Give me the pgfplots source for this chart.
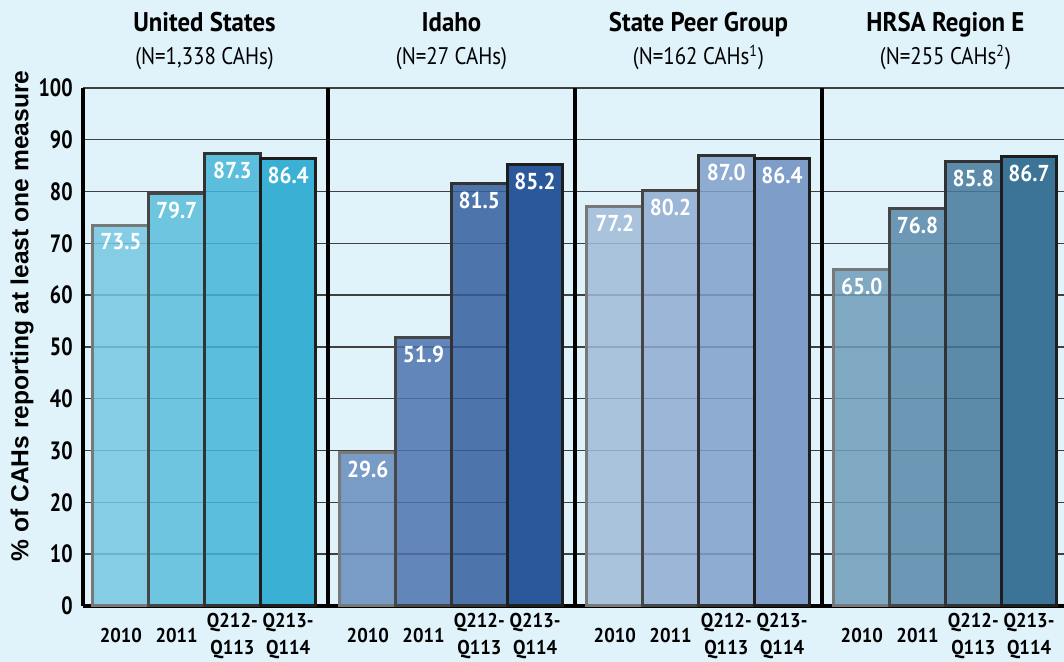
\documentclass[border=0pt]{standalone}
\usepackage{pgfplots}
\pgfplotsset{compat=1.18}
\usepackage{fontspec}
\setmainfont{PT Sans}
\newfontfamily\cond{PT Sans}[FakeStretch=0.8]
\newfontfamily\condt{PT Sans}[FakeStretch=0.92]
\newfontfamily\conds{PT Sans}[FakeStretch=0.87]
\newfontfamily\condx{PT Sans}[FakeStretch=0.93]
\newfontfamily\arialb{Liberation Sans}

\definecolor{bgc}{RGB}{224,243,250}
% United States
\definecolor{ua}{RGB}{116,199,226}
\definecolor{ub}{RGB}{90,189,219}
\definecolor{uc}{RGB}{69,181,217}
\definecolor{ud}{RGB}{58,176,213}
% Idaho
\definecolor{ia}{RGB}{104,141,189}
\definecolor{ib}{RGB}{76,115,175}
\definecolor{ic}{RGB}{52,94,158}
\definecolor{id}{RGB}{42,88,154}
% State peer group
\definecolor{pa}{RGB}{160,187,217}
\definecolor{pb}{RGB}{143,172,208}
\definecolor{pc}{RGB}{128,160,203}
\definecolor{pd}{RGB}{126,157,200}
% HRSA Region E
\definecolor{ra}{RGB}{111,157,185}
\definecolor{rb}{RGB}{90,137,169}
\definecolor{rc}{RGB}{69,121,156}
\definecolor{rd}{RGB}{60,116,152}
% borders
\definecolor{ba}{RGB}{120,120,120}
\definecolor{bb}{RGB}{70,70,70}
\definecolor{bc}{RGB}{50,50,50}
\definecolor{bd}{RGB}{30,30,30}

\pgfplotsset{
  vbar/.style n args={3}{
    ybar, bar width=1, bar shift=0pt,
    fill=#1, draw=#2, line width=1.5pt, fill opacity=#3,
    nodes near coords={\pgfmathprintnumber[fixed,zerofill,precision=1,assume math mode=true]{\pgfplotspointmeta}},
    every node near coord/.append style={anchor=north, inner sep=0pt, yshift=-3.5pt,
      text=white, fill opacity=1, text opacity=1,
      font=\condt\bfseries\fontsize{11.5}{12}\selectfont},
  },
}
\tikzset{
  gtitle/.style={anchor=base, inner sep=0pt, font=\condt\bfseries\fontsize{13.5}{14}\selectfont},
  gsub/.style={anchor=base, inner sep=0pt, font=\conds\fontsize{12}{13}\selectfont},
}

\begin{document}
\begin{tikzpicture}
\useasboundingbox (0,0) rectangle (532pt,331pt);
\fill[bgc] (0,0) rectangle (532pt,331pt);
\begin{axis}[
  at={(41.5pt,28pt)}, anchor=south west,
  scale only axis, width=490.5pt, height=259pt,
  xmin=-0.679, xmax=16.917, ymin=0, ymax=100,
  clip=false,
  axis x line*=bottom, axis y line*=left,
  axis line style={line width=2pt, black, -},
  major tick length=0pt,
  ytick={0,10,...,100},
  ymajorgrids,
  major grid style={line width=0.7pt, black!75},
  /pgf/number format/assume math mode=true,
  yticklabel style={font=\cond\bfseries\fontsize{12.5}{13}\selectfont, inner sep=0pt, xshift=-5pt},
  xtick={0,1,2,3,4.43,5.43,6.43,7.43,8.86,9.86,10.86,11.86,13.29,14.29,15.29,16.29},
  xticklabels={2010,2011,{Q212-\\Q113},{Q213-\\Q114},2010,2011,{Q212-\\Q113},{Q213-\\Q114},2010,2011,{Q212-\\Q113},{Q213-\\Q114},2010,2011,{Q212-\\Q113},{Q213-\\Q114}},
  xticklabel style={font=\condx\bfseries\fontsize{10}{13.5}\selectfont, align=center, anchor=center, yshift=-15pt},
  extra x ticks={3.715,8.145,12.575},
  extra x tick labels={},
  extra x tick style={grid=major, major grid style={line width=2pt, black}},
]
% United States
\addplot[vbar={ua}{ba}{0.85}] coordinates {(0,73.5)};
\addplot[vbar={ub}{bb}{0.85}] coordinates {(1,79.7)};
\addplot[vbar={uc}{bc}{0.85}] coordinates {(2,87.3)};
\addplot[vbar={ud}{bd}{1}] coordinates {(3,86.4)};
% Idaho
\addplot[vbar={ia}{ba}{0.85}] coordinates {(4.43,29.6)};
\addplot[vbar={ib}{bb}{0.85}] coordinates {(5.43,51.9)};
\addplot[vbar={ic}{bc}{0.85}] coordinates {(6.43,81.5)};
\addplot[vbar={id}{bd}{1}] coordinates {(7.43,85.2)};
% State Peer Group
\addplot[vbar={pa}{ba}{0.85}] coordinates {(8.86,77.2)};
\addplot[vbar={pb}{bb}{0.85}] coordinates {(9.86,80.2)};
\addplot[vbar={pc}{bc}{0.85}] coordinates {(10.86,87.0)};
\addplot[vbar={pd}{bd}{1}] coordinates {(11.86,86.4)};
% HRSA Region E
\addplot[vbar={ra}{ba}{0.85}] coordinates {(13.29,65.0)};
\addplot[vbar={rb}{bb}{0.85}] coordinates {(14.29,76.8)};
\addplot[vbar={rc}{bc}{0.85}] coordinates {(15.29,85.8)};
\addplot[vbar={rd}{bd}{1}] coordinates {(16.29,86.7)};

\node[gtitle] at ([yshift=28pt]axis cs:1.5,100) {United States};
\node[gsub]   at ([yshift=11.5pt]axis cs:1.5,100) {(N=1,338 CAHs)};
\node[gtitle] at ([yshift=28pt]axis cs:5.93,100) {Idaho};
\node[gsub]   at ([yshift=11.5pt]axis cs:5.93,100) {(N=27 CAHs)};
\node[gtitle] at ([yshift=28pt]axis cs:10.36,100) {State Peer Group};
\node[gsub]   at ([yshift=11.5pt]axis cs:10.36,100) {(N=162 CAHs\textsuperscript{1})};
\node[gtitle] at ([yshift=28pt]axis cs:14.79,100) {HRSA Region E};
\node[gsub]   at ([yshift=11.5pt]axis cs:14.79,100) {(N=255 CAHs\textsuperscript{2})};
\end{axis}
\node[rotate=90, inner sep=0pt, font=\arialb\bfseries\fontsize{12.3}{13}\selectfont] at (11pt,173pt)
  {\% of CAHs reporting at least one measure};
\end{tikzpicture}
\end{document}
